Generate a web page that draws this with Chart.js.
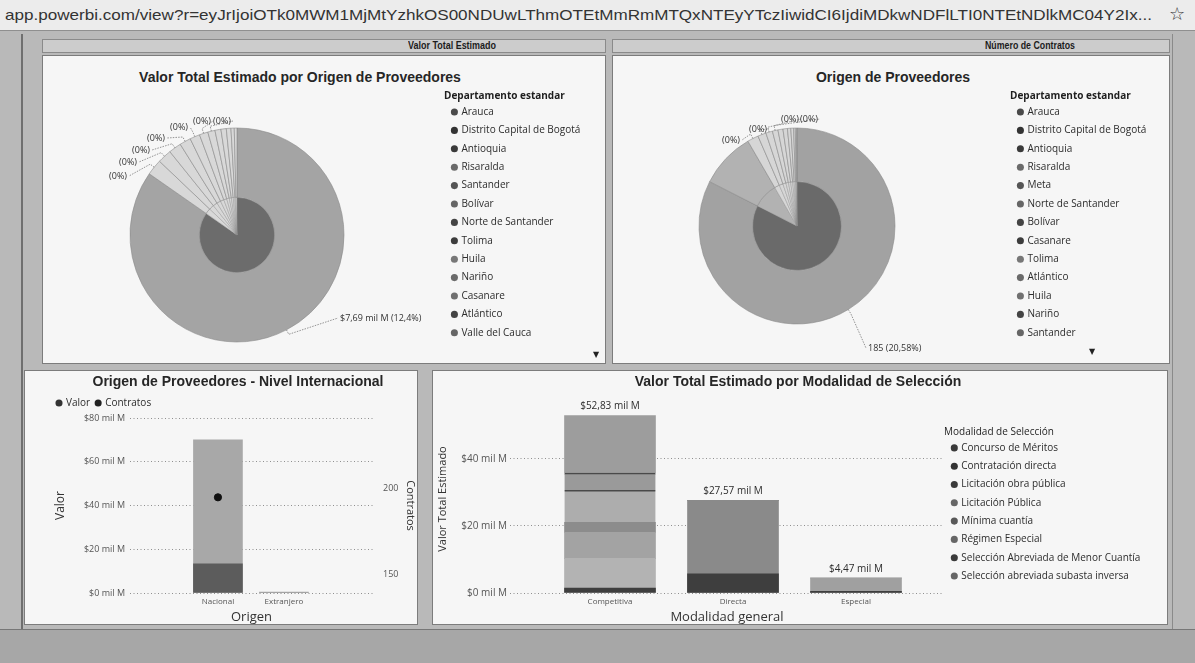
<!DOCTYPE html>
<html lang="es">
<head>
<meta charset="utf-8">
<title>Power BI - Contratos</title>
<script src="https://cdn.jsdelivr.net/npm/chart.js@4.4.1/dist/chart.umd.min.js"></script>
<style>
  * { box-sizing: border-box; }
  html, body { margin: 0; padding: 0; }
  body { width: 1195px; height: 663px; position: relative; overflow: hidden; background: #b9b9b9; }
  .abs { position: absolute; }
  #topbar { left: 0; top: 0; width: 1195px; height: 31px; background: #ececec; border-bottom: 1px solid #8f8f8f; }
  #url { left: 5px; top: 6px; font: 15px "Liberation Sans", sans-serif; color: #333; white-space: nowrap; transform-origin: 0 50%; }
  #star { left: 1169px; top: 3px; font: 18px "DejaVu Sans", sans-serif; color: #333; }
  #leftline { left: 21px; top: 34px; width: 2px; height: 595px; background: #6f6f6f; }
  #rightline { left: 1172px; top: 34px; width: 1px; height: 595px; background: #8a8a8a; }
  .hdr { background: #cccccc; border: 1px solid #8a8a8a; }
  .hdrtxt { font: bold 10px "Liberation Sans", sans-serif; color: #1c1c1c; white-space: nowrap; transform-origin: 0 50%; }
  .panel { background: #f6f6f6; border: 1px solid #7c7c7c; }
  .ptitle { font: bold 14px "Liberation Sans", sans-serif; line-height: 16px; color: #262626; white-space: nowrap; transform: translateX(-50%); }
  .arrow { font: 8px "DejaVu Sans", sans-serif; color: #222; }
  #bottom { left: 0; top: 629px; width: 1195px; height: 34px; background: #a7a7a7; border-top: 1px solid #777; }
</style>
</head>
<body>
<div id="topbar" class="abs"></div>
<div id="url" class="abs">app.powerbi.com/view?r=eyJrIjoiOTk0MWM1MjMtYzhkOS00NDUwLThmOTEtMmRmMTQxNTEyYTczIiwidCI6IjdiMDkwNDFlLTI0NTEtNDlkMC04Y2Ix...</div>
<div id="star" class="abs">☆</div>
<div id="leftline" class="abs"></div>
<div id="rightline" class="abs"></div>

<div class="abs hdr" style="left:42px;top:39px;width:564px;height:14px"></div>
<div id="h1" class="abs hdrtxt" style="left:408px;top:40px">Valor Total Estimado</div>
<div class="abs hdr" style="left:612px;top:39px;width:558px;height:14px"></div>
<div id="h2" class="abs hdrtxt" style="left:985px;top:40px">Número de Contratos</div>

<div class="abs panel" style="left:42px;top:55px;width:564px;height:309px"></div>
<div class="abs panel" style="left:612px;top:55px;width:558px;height:309px"></div>
<div class="abs panel" style="left:24px;top:370px;width:394px;height:255px"></div>
<div class="abs panel" style="left:432px;top:370px;width:736px;height:255px"></div>

<canvas id="cValor" class="abs"></canvas>
<canvas id="cContratos" class="abs"></canvas>
<canvas id="cOrigen" class="abs" width="394" height="255" style="left:24px;top:370px"></canvas>
<canvas id="cModalidad" class="abs" width="736" height="255" style="left:432px;top:370px"></canvas>

<div class="abs ptitle" style="left:300px;top:69px">Valor Total Estimado por Origen de Proveedores</div>
<div class="abs ptitle" style="left:893px;top:69px">Origen de Proveedores</div>
<div class="abs ptitle" style="left:238px;top:373px">Origen de Proveedores - Nivel Internacional</div>
<div class="abs ptitle" style="left:798px;top:373px">Valor Total Estimado por Modalidad de Selección</div>

<div class="abs arrow" style="left:593px;top:350px">▼</div>
<div class="abs arrow" style="left:1089px;top:347px">▼</div>

<div id="bottom" class="abs"></div>

<script>
// ------------------------- DATOS -------------------------
// Valor total estimado por departamento del proveedor (mil M)
const deptosValor = ["Arauca", "Distrito Capital de Bogotá", "Antioquia", "Risaralda", "Santander", "Bolívar",
  "Norte de Santander", "Tolima", "Huila", "Nariño", "Casanare", "Atlántico", "Valle del Cauca"];
const valorPorDepto = [62.0, 1.76, 1.54, 1.39, 1.24, 1.10, 0.95, 0.80, 0.66, 0.59, 0.51, 0.36, 0.30];
const valorResaltadoDepto = [7.69, 0, 0, 0, 0, 0, 0, 0, 0, 0, 0, 0, 0];
const etiquetasValorDepto = ["$7,69 mil M (12,4%)", "(0%)", "(0%)", "(0%)", "(0%)", "(0%)", "(0%)", "(0%)", "", "", "", "", ""];

// Número de contratos por departamento del proveedor
const deptosContratos = ["Arauca", "Distrito Capital de Bogotá", "Antioquia", "Risaralda", "Meta", "Norte de Santander",
  "Bolívar", "Casanare", "Tolima", "Atlántico", "Huila", "Nariño", "Santander"];
const contratosPorDepto = [899, 100, 20, 15, 12, 10, 9, 8, 6, 5, 3, 2, 1];
const contratosResaltadoDepto = [185, 0, 0, 0, 0, 0, 0, 0, 0, 0, 0, 0, 0];
const etiquetasContratosDepto = ["185 (20,58%)", "", "(0%)", "(0%)", "(0%)", "(0%)", "", "", "", "", "", "", ""];

// Nivel internacional
const origenCategorias = ["Nacional", "Extranjero"];
const valorPorOrigen = [70.0, 0.4];
const valorResaltadoOrigen = [13.3, 0];
const contratosPorOrigen = [195, null];
const ticksContratos = [150, 200];

// Modalidad de selección (mil M) por modalidad general
const modalidadGeneral = ["Competitiva", "Directa", "Especial"];
const modalidadesSeleccion = ["Concurso de Méritos", "Contratación directa", "Licitación obra pública", "Licitación Pública",
  "Mínima cuantía", "Régimen Especial", "Selección Abreviada de Menor Cuantía", "Selección abreviada subasta inversa"];
const concursoMeritos       = [10.30, 0, 0];
const contratacionDirecta   = [0, 27.57, 0];
const licitacionObraPublica = [7.76, 0, 0];
const licitacionPublica     = [2.98, 0, 0];
const minimaCuantia         = [9.56, 0, 0];
const regimenEspecial       = [0, 0, 4.47];
const selAbrevMenorCuantia  = [5.10, 0, 0];
const selAbrevSubasta       = [17.13, 0, 0];
const valorResaltadoModalidad = [1.5, 5.7, 0.5];

// ------------------------- ESTILO -------------------------
Chart.defaults.font.family = '"Open Sans", sans-serif';
Chart.defaults.color = '#444';
Chart.defaults.animation = false;

const mctx = document.createElement('canvas').getContext('2d');
function textW(t, font) { mctx.font = font; return mctx.measureText(t).width; }
function fitWidth(id, w) {
  const el = document.getElementById(id);
  const cw = el.getBoundingClientRect().width;
  el.style.transform = 'scaleX(' + (w / cw) + ')';
}
fitWidth('url', 1147); fitWidth('h1', 88); fitWidth('h2', 90);

const legendFont = {family: '"Open Sans", sans-serif', size: 10};
const legendFontStr = '10px "Open Sans", sans-serif';
const legendColor = '#2c2c2c';
const BOXW = 4;
function legendWidth(labels, pad) {
  return pad + Math.max(...labels.map(l => BOXW + 5 + textW(l, legendFontStr))) + 10;
}
// fixes the width of a right-hand legend so it is never capped by the layout
const legendWidthPlugin = {
  id: 'anchoLeyenda',
  beforeLayout(chart, args, opts) {
    const lg = chart.legend;
    if (lg && !lg.__anchoFijo && opts && opts.width) {
      const fit = lg.fit;
      lg.fit = function () { fit.call(this); this.width = opts.width; };
      lg.__anchoFijo = true;
    }
  }
};

const pieLabelPlugin = {
  id: 'etiquetasPie',
  afterDatasetsDraw(chart, args, opts) {
    const meta = chart.getDatasetMeta(0);
    const ctx = chart.ctx;
    ctx.save();
    ctx.font = '9px "Open Sans", sans-serif';
    ctx.textBaseline = 'middle';
    opts.anchors.forEach(a => {
      const arc = meta.data[a.i];
      const txt = opts.texts[a.i];
      if (!arc || !txt) return;
      const p = arc.getProps(['x', 'y', 'startAngle', 'endAngle', 'outerRadius'], true);
      const mid = (p.startAngle + p.endAngle) / 2;
      const ex = p.x + Math.cos(mid) * p.outerRadius, ey = p.y + Math.sin(mid) * p.outerRadius;
      const bx = p.x + Math.cos(mid) * (p.outerRadius + 5), by = p.y + Math.sin(mid) * (p.outerRadius + 5);
      const tx = p.x + a.dx, ty = p.y + a.dy;
      const lx = a.align === 'left' ? tx - 2 : tx + 2;
      ctx.strokeStyle = '#7a7a7a'; ctx.lineWidth = 0.8; ctx.setLineDash([1.5, 1.2]);
      ctx.beginPath(); ctx.moveTo(ex, ey); ctx.lineTo(bx, by); ctx.lineTo(lx, ty); ctx.stroke();
      ctx.setLineDash([]);
      ctx.fillStyle = '#333';
      ctx.textAlign = a.align === 'left' ? 'left' : 'right';
      ctx.fillText(txt, tx, ty);
    });
    ctx.restore();
  }
};

// st: abs geometry of the pie (cx, cy, r), legend left edge, legend-title centre, panel right edge
function makePie(id, labels, values, highlight, texts, st) {
  const f = Math.sqrt(highlight[0] / values[0]);
  const areaTop = st.legendTitleY - 5;
  const L = 2 * st.cx - st.legendLeft;
  const cw = Math.round(st.right - L), ch = Math.round(2 * (st.cy - areaTop));
  const cv = document.getElementById(id);
  cv.width = cw; cv.height = ch;
  cv.style.left = L + 'px'; cv.style.top = areaTop + 'px';
  const lw = legendWidth(labels, 8.4);
  const padRight = cw - (st.legendLeft - L) - lw;
  return new Chart(cv, {
    type: 'pie',
    data: {
      labels: labels,
      datasets: [
        {label: 'Total', data: values, backgroundColor: st.outer, borderColor: '#8a8a8a', borderWidth: 0.6, weight: 1 - f, radius: st.r},
        {label: 'Resaltado', data: values, backgroundColor: st.inner, borderColor: '#8a8a8a', borderWidth: 0.4, weight: f, radius: st.r}
      ]
    },
    options: {
      responsive: false, animation: false, radius: st.r,
      layout: {padding: {left: 0, right: padRight, top: 0, bottom: 0}},
      plugins: {
        tooltip: {enabled: false},
        anchoLeyenda: {width: lw},
        legend: {
          position: 'right', align: 'start', fullSize: false,
          title: {display: true, text: 'Departamento estandar', position: 'start', color: '#1e1e1e',
            font: {family: '"Open Sans", sans-serif', size: 10, weight: 'bold', lineHeight: 0.76}, padding: 0},
          labels: {
            usePointStyle: true, pointStyle: 'circle', boxWidth: BOXW, boxHeight: 5, padding: 8.4, color: legendColor, font: legendFont,
            generateLabels(chart) {
              const items = Chart.overrides.pie.plugins.legend.labels.generateLabels(chart);
              items.forEach((it, i) => { it.fillStyle = st.markers[i % st.markers.length]; it.strokeStyle = it.fillStyle; it.lineWidth = 0; });
              return items;
            }
          }
        },
        etiquetasPie: {texts: texts, anchors: st.anchors}
      }
    },
    plugins: [pieLabelPlugin, legendWidthPlugin]
  });
}

const pieMarkers = ['#4a4a4a', '#333333', '#3a3a3a', '#6a6a6a', '#555555', '#666666', '#444444', '#3c3c3c', '#777777', '#6a6a6a', '#707070', '#444444', '#666666'];

makePie('cValor', deptosValor, valorPorDepto, valorResaltadoDepto, etiquetasValorDepto, {
  cx: 237, cy: 235, r: 107, legendLeft: 444, legendTitleY: 96, right: 606,
  outer: ['#a4a4a4'].concat(Array(12).fill('#d8d8d8')),
  inner: ['#6c6c6c'].concat(Array(12).fill('#d8d8d8')),
  markers: pieMarkers,
  anchors: [
    {i: 0, dx: 103, dy: 83, align: 'left'},
    {i: 1, dx: -110, dy: -59}, {i: 2, dx: -100, dy: -73}, {i: 3, dx: -87, dy: -85},
    {i: 4, dx: -72, dy: -97}, {i: 5, dx: -49, dy: -108}, {i: 6, dx: -26, dy: -114}, {i: 7, dx: -6, dy: -114}
  ]
});

makePie('cContratos', deptosContratos, contratosPorDepto, contratosResaltadoDepto, etiquetasContratosDepto, {
  cx: 797, cy: 226, r: 98, legendLeft: 1010, legendTitleY: 96, right: 1170,
  outer: ['#a2a2a2', '#b2b2b2'].concat(Array(11).fill('#d6d6d6')),
  inner: ['#6a6a6a', '#b2b2b2'].concat(Array(11).fill('#d6d6d6')),
  markers: pieMarkers,
  anchors: [
    {i: 0, dx: 71, dy: 122, align: 'left'},
    {i: 2, dx: -57, dy: -86}, {i: 3, dx: -30, dy: -97}, {i: 4, dx: 2, dy: -107}, {i: 5, dx: 21, dy: -107}
  ]
});

// ---------- Origen de Proveedores - Nivel Internacional ----------
new Chart(document.getElementById('cOrigen'), {
  data: {
    datasets: [
      {type: 'bar', label: 'Valor', data: origenCategorias.map((c, i) => ({x: i, y: valorPorOrigen[i]})),
        backgroundColor: '#a8a8a8', barThickness: 49, grouped: false, yAxisID: 'y', order: 2},
      {type: 'bar', label: 'Valor resaltado', data: origenCategorias.map((c, i) => ({x: i, y: valorResaltadoOrigen[i]})),
        backgroundColor: '#5c5c5c', barThickness: 49, grouped: false, yAxisID: 'y', order: 1},
      {type: 'line', label: 'Contratos', data: origenCategorias.map((c, i) => ({x: i, y: contratosPorOrigen[i]})),
        yAxisID: 'y1', showLine: false, pointRadius: 3.6, pointBackgroundColor: '#111', pointBorderColor: '#111',
        backgroundColor: '#222', borderColor: '#222', order: 0}
    ]
  },
  options: {
    responsive: false, animation: false,
    layout: {padding: {left: 27, right: 0, top: 22, bottom: 0}},
    plugins: {
      tooltip: {enabled: false},
      legend: {
        position: 'top', align: 'start',
        labels: {
          usePointStyle: true, pointStyle: 'circle', boxWidth: BOXW, boxHeight: 5, padding: 6, color: legendColor, font: legendFont,
          filter: it => it.text !== 'Valor resaltado',
          sort: (a, b) => a.datasetIndex - b.datasetIndex,
          generateLabels(chart) {
            const items = Chart.defaults.plugins.legend.labels.generateLabels(chart);
            items.forEach(it => { it.fillStyle = it.text === 'Valor' ? '#333' : '#222'; it.strokeStyle = it.fillStyle; it.lineWidth = 0; it.pointStyle = 'circle'; });
            return items;
          }
        }
      }
    },
    scales: {
      x: {
        type: 'linear', min: -1.333, max: 2.35, offset: false,
        afterBuildTicks: s => { s.ticks = origenCategorias.map((c, i) => ({value: i})); },
        afterFit: s => { s.height = 32; },
        grid: {display: false, drawTicks: false, offset: false}, border: {display: false},
        ticks: {callback: v => origenCategorias[v] ?? '', font: {size: 8}, color: '#555', padding: 4, maxRotation: 0, autoSkip: false},
        title: {display: true, text: 'Origen', font: {size: 13}, color: '#333', padding: {top: 2, bottom: 0}}
      },
      y: {
        position: 'left', min: 0, max: 80,
        afterFit: s => { s.width = 79; },
        ticks: {stepSize: 20, callback: v => '$' + v + ' mil M', font: {size: 9}, color: '#555', padding: 5},
        grid: {color: '#8f8f8f', drawTicks: false}, border: {display: false, dash: [1, 2.5]},
        title: {display: true, text: 'Valor', font: {size: 12}, color: '#333', padding: {top: 2, bottom: 0}}
      },
      y1: {
        position: 'right', min: 139.5, max: 241,
        afterBuildTicks: s => { s.ticks = ticksContratos.map(v => ({value: v})); },
        afterFit: s => { s.width = 45; },
        ticks: {font: {size: 9}, color: '#555', padding: 10},
        grid: {drawOnChartArea: false, drawTicks: false}, border: {display: false},
        title: {display: true, text: 'Contratos', font: {size: 11}, color: '#333', padding: {top: 1.5, bottom: 0}}
      }
    }
  }
});

// ---------- Valor Total Estimado por Modalidad de Selección ----------
const seriesModalidad = [concursoMeritos, contratacionDirecta, licitacionObraPublica, licitacionPublica,
  minimaCuantia, regimenEspecial, selAbrevMenorCuantia, selAbrevSubasta];
const grisesModalidad = ['#b3b3b3', '#8a8a8a', '#a3a3a3', '#8c8c8c', '#adadad', '#a0a0a0', '#9a9a9a', '#9d9d9d'];
const bordesModalidad = [0, 0, 0, 0, {top: 1.5}, 0, {top: 1.5}, 0];
const marcadoresModalidad = ['#3a3a3a', '#333333', '#3a3a3a', '#666666', '#585858', '#666666', '#3a3a3a', '#666666'];

const W4 = 736;
const legendLeft4 = 944 - 432;              // legend box left edge inside the canvas
const lw4 = legendWidth(modalidadesSeleccion, 8.3);
const padRight4 = W4 - legendLeft4 - lw4;
const plotLeft4 = 78, c0 = 610 - 432, step4 = 123;
const xmin4 = -(c0 - plotLeft4) / step4;
const xmax4 = xmin4 + (legendLeft4 - plotLeft4) / step4;

const totalsPlugin = {
  id: 'totales',
  afterDatasetsDraw(chart) {
    const ctx = chart.ctx, xs = chart.scales.x, ys = chart.scales.y;
    ctx.save();
    ctx.font = '10px "Open Sans", sans-serif'; ctx.fillStyle = '#2c2c2c'; ctx.textAlign = 'center'; ctx.textBaseline = 'middle';
    modalidadGeneral.forEach((m, i) => {
      const tot = seriesModalidad.reduce((s, arr) => s + arr[i], 0);
      ctx.fillText('$' + tot.toFixed(2).replace('.', ',') + ' mil M', xs.getPixelForValue(i), ys.getPixelForValue(tot) - 9);
    });
    ctx.restore();
  }
};

new Chart(document.getElementById('cModalidad'), {
  type: 'bar',
  data: {
    datasets: [
      {label: 'Valor resaltado', data: modalidadGeneral.map((m, i) => ({x: i, y: valorResaltadoModalidad[i]})),
        backgroundColor: '#3e3e3e', barThickness: 91, grouped: false, stack: 'res', order: -1}
    ].concat(seriesModalidad.map((arr, k) => ({
      label: modalidadesSeleccion[k], data: modalidadGeneral.map((m, i) => ({x: i, y: arr[i]})),
      backgroundColor: grisesModalidad[k], borderColor: '#4a4a4a', borderWidth: bordesModalidad[k], borderSkipped: 'start',
      barThickness: 91, grouped: false, stack: 'total', order: 0
    })))
  },
  options: {
    responsive: false, animation: false,
    layout: {padding: {left: 0, right: padRight4, top: 35, bottom: 0}},
    plugins: {
      tooltip: {enabled: false},
      anchoLeyenda: {width: lw4},
      legend: {
        position: 'right', align: 'start', fullSize: false,
        title: {display: true, text: 'Modalidad de Selección', position: 'start', color: '#1e1e1e',
          font: {family: '"Open Sans", sans-serif', size: 10, lineHeight: 0.76}, padding: {top: 22, bottom: 0}},
        labels: {
          usePointStyle: true, pointStyle: 'circle', boxWidth: BOXW, boxHeight: 5, padding: 8.3, color: legendColor, font: legendFont,
          filter: it => it.text !== 'Valor resaltado',
          sort: (a, b) => a.datasetIndex - b.datasetIndex,
          generateLabels(chart) {
            const items = Chart.defaults.plugins.legend.labels.generateLabels(chart);
            items.forEach(it => { it.fillStyle = marcadoresModalidad[it.datasetIndex - 1] || '#333'; it.strokeStyle = it.fillStyle; it.lineWidth = 0; it.pointStyle = 'circle'; });
            return items;
          }
        }
      }
    },
    scales: {
      x: {
        type: 'linear', min: xmin4, max: xmax4, stacked: true, offset: false,
        afterBuildTicks: s => { s.ticks = modalidadGeneral.map((m, i) => ({value: i})); },
        afterFit: s => { s.height = 32; },
        grid: {display: false, drawTicks: false, offset: false}, border: {display: false},
        ticks: {callback: v => modalidadGeneral[v] ?? '', font: {size: 8}, color: '#555', padding: 4, maxRotation: 0, autoSkip: false},
        title: {display: true, text: 'Modalidad general', font: {size: 13}, color: '#333', padding: {top: 2, bottom: 0}}
      },
      y: {
        stacked: true, min: 0, max: 56,
        afterFit: s => { s.width = 78; },
        ticks: {stepSize: 20, includeBounds: false, callback: v => '$' + v + ' mil M', font: {size: 10}, color: '#555', padding: 3},
        grid: {color: '#8f8f8f', drawTicks: false}, border: {display: false, dash: [1, 2.5]},
        title: {display: true, text: 'Valor Total Estimado', font: {size: 11}, color: '#333', padding: {top: 4.4, bottom: 0}}
      }
    }
  },
  plugins: [totalsPlugin, legendWidthPlugin]
});
</script>
</body>
</html>
